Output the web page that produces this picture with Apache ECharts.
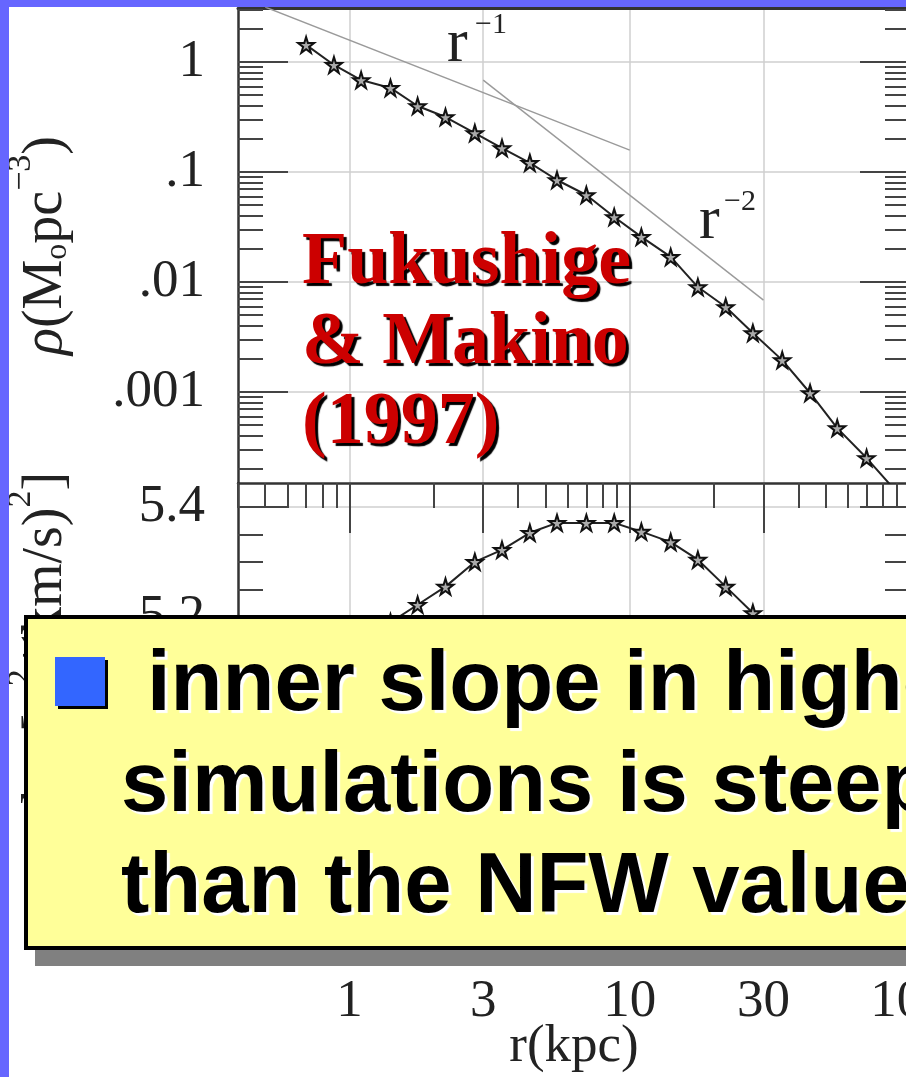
<!DOCTYPE html>
<html><head><meta charset="utf-8">
<script src="https://cdn.jsdelivr.net/npm/echarts@6/dist/echarts.min.js"></script>
<style>html,body{margin:0;padding:0;background:#fff;overflow:hidden}#c{width:906px;height:1077px}</style>
</head><body><div id="c"></div>
<script>
// ---- data ----
const rRho = [0.7, 0.88, 1.1, 1.4, 1.75, 2.2, 2.8, 3.5, 4.4, 5.5, 7.0, 8.8, 11, 14, 17.5, 22, 27.5, 35, 44, 55, 70];
const rho  = [1.43, 0.94, 0.685, 0.581, 0.398, 0.316, 0.226, 0.165, 0.121, 0.0846, 0.0618, 0.039, 0.0257, 0.0169, 0.0090, 0.00593, 0.00344, 0.00195, 0.00098, 0.00047, 0.000251];
const rRhoTail = [88];
const rhoTail = [0.00013];
const rSig = [1.4, 1.75, 2.2, 2.8, 3.5, 4.4, 5.5, 7.0, 8.8, 11, 14, 17.5, 22, 27.5, 35];
const sig  = [5.19, 5.222, 5.255, 5.30, 5.322, 5.353, 5.371, 5.371, 5.371, 5.355, 5.336, 5.304, 5.255, 5.207, 5.15];
const slope1R = [0.5, 10];
const slope1Rho = [3.16, 0.158];
const slope2R = [3, 30];
const slope2Rho = [0.684, 0.00684];
// ---- ticks ----
const xMajor = [1, 3, 10, 30, 100];
const xMinor = [0.4, 0.5, 0.6, 0.7, 0.8, 0.9, 2, 4, 5, 6, 7, 8, 9, 20, 40, 50, 60, 70, 80, 90];
const xLabels = ['1', '3', '10', '30', '100'];
const rhoMajor = [0.001, 0.01, 0.1, 1];
const rhoLabels = ['.001', '.01', '.1', '1'];
const rhoMinor = [0.0002, 0.0003, 0.0004, 0.0005, 0.0006, 0.0007, 0.0008, 0.0009,
  0.002, 0.003, 0.004, 0.005, 0.006, 0.007, 0.008, 0.009,
  0.02, 0.03, 0.04, 0.05, 0.06, 0.07, 0.08, 0.09,
  0.2, 0.3, 0.4, 0.5, 0.6, 0.7, 0.8, 0.9, 2, 3];
const sigMajor = [4.6, 4.8, 5.0, 5.2, 5.4];
const sigLabels = ['4.6', '4.8', '5.0', '5.2', '5.4'];
const sigMinor = [4.65, 4.7, 4.75, 4.85, 4.9, 4.95, 5.05, 5.1, 5.15, 5.25, 5.3, 5.35];
const boxLines = ['inner slope in higher-resolution', 'simulations is steeper', 'than the NFW value'];
const citeLines = ['Fukushige', '& Makino', '(1997)'];

const zip = (a, b) => a.map((v, i) => [v, b[i]]);
const SERIF = '"Liberation Serif","DejaVu Serif",serif';
const SANS = '"Liberation Sans",Arial,sans-serif';
const STAR = 'path://M50,0 L61,35 L98,35 L68,57 L79,91 L50,70 L21,91 L32,57 L2,35 L39,35 Z';
const tickC = '#444', gridC = '#cfcfcf';
const labelStyle = { fontFamily: SERIF, fontSize: 53, color: '#222' };

function logX(gi, extra) {
  return Object.assign({ type: 'log', gridIndex: gi, min: 0.4, max: 100,
    axisLine: { show: false }, axisTick: { show: false }, axisLabel: { show: false }, splitLine: { show: false } }, extra);
}
function tickAxis(type, gi, pos, vals, len, extraBase) {
  return Object.assign({ type: type, gridIndex: gi, position: pos,
    axisLine: { show: false },
    axisTick: { show: true, inside: true, length: len, customValues: vals, lineStyle: { color: tickC, width: 2 } },
    axisLabel: { show: false }, splitLine: { show: false } }, extraBase);
}
const rhoRange = { min: 1.489e-4, max: 3.097 };
const sigRange = { min: 4.57, max: 5.4436 };
const nameRich = {
  t: { fontFamily: SERIF, fontSize: 56, color: '#222', padding: [14, 0, 0, 0] },
  it: { fontFamily: SERIF, fontSize: 56, color: '#222', fontStyle: 'italic', padding: [14, 0, 0, 0] },
  sub: { fontFamily: SERIF, fontSize: 32, color: '#222', verticalAlign: 'bottom' },
  sup: { fontFamily: SERIF, fontSize: 34, color: '#222', verticalAlign: 'top' },
  lead: { fontFamily: SERIF, fontSize: 56, color: '#222', padding: [14, 0, 0, 170] }
};
const shadowed = (c) => ({ textShadowColor: c, textShadowOffsetX: 3, textShadowOffsetY: 3, textShadowBlur: 1,
  shadowColor: c, shadowOffsetX: 3, shadowOffsetY: 3, shadowBlur: 1 });

const chart = echarts.init(document.getElementById('c'), null, { renderer: 'canvas' });
const option = {
  animation: false,
  backgroundColor: '#fff',
  grid: [
    { left: 238, right: -4, top: 8, height: 475, outerBoundsMode: 'none', containLabel: false },
    { left: 238, right: -4, top: 483, height: 480, outerBoundsMode: 'none', containLabel: false }
  ],
  xAxis: [
    logX(0, { position: 'bottom', axisTick: { show: false, customValues: xMajor }, splitLine: { show: true, lineStyle: { color: gridC, width: 1.5 } } }),
    logX(0, { position: 'top', axisLine: { show: true, lineStyle: { color: '#333', width: 3 } } }),
    logX(1, { position: 'bottom',
      axisLine: { show: true, lineStyle: { color: '#333', width: 2 } },
      axisTick: { show: false, customValues: xMajor },
      axisLabel: { show: true, customValues: xMajor, margin: 13, formatter: v => xLabels[xMajor.indexOf(v)] ?? String(v), ...labelStyle },
      splitLine: { show: true, lineStyle: { color: gridC, width: 1.5 } },
      name: 'r(kpc)', nameLocation: 'middle', nameGap: 58, nameMoveOverlap: false, nameTextStyle: labelStyle }),
    logX(1, { position: 'top', axisLine: { show: true, lineStyle: { color: '#333', width: 2.5 } },
      axisTick: { show: true, inside: true, length: 50, customValues: xMajor, lineStyle: { color: tickC, width: 2 } } }),
    logX(1, { position: 'top',
      axisTick: { show: true, inside: true, length: 25, customValues: xMinor, lineStyle: { color: tickC, width: 2 } } })
  ],
  yAxis: [
    Object.assign({ type: 'log', gridIndex: 0, position: 'left',
      axisLine: { show: true, lineStyle: { color: '#333', width: 2.5 } },
      axisTick: { show: true, inside: true, length: 50, customValues: rhoMajor, lineStyle: { color: tickC, width: 2 } },
      axisLabel: { show: true, margin: 33, customValues: rhoMajor, formatter: v => rhoLabels[rhoMajor.indexOf(v)] ?? String(v), ...labelStyle },
      splitLine: { show: true, lineStyle: { color: gridC, width: 1.5 } },
      name: '{it|ρ}{t|(M}{sub|o}{t|pc}{sup|−3}{t|)}', nameLocation: 'middle', nameGap: 164, nameRotate: 90, nameMoveOverlap: false,
      nameTextStyle: { rich: nameRich } }, rhoRange),
    tickAxis('log', 0, 'left', rhoMinor, 25, rhoRange),
    tickAxis('log', 0, 'right', rhoMajor, 50, rhoRange),
    tickAxis('log', 0, 'right', rhoMinor, 25, rhoRange),
    Object.assign({ type: 'value', gridIndex: 1, position: 'left',
      axisLine: { show: true, lineStyle: { color: '#333', width: 2.5 } },
      axisTick: { show: true, inside: true, length: 50, customValues: sigMajor, lineStyle: { color: tickC, width: 2 } },
      axisLabel: { show: true, margin: 33, customValues: sigMajor, formatter: v => sigLabels[sigMajor.indexOf(v)] ?? String(v), ...labelStyle },
      splitLine: { show: true, lineStyle: { color: gridC, width: 1.5 } },
      name: '{lead|log[}{it|σ}{sup|2}{t|/(km/s)}{sup|2}{t|]}', nameLocation: 'middle', nameGap: 164, nameRotate: 90, nameMoveOverlap: false,
      nameTextStyle: { rich: nameRich } }, sigRange),
    tickAxis('value', 1, 'left', sigMinor, 25, sigRange),
    tickAxis('value', 1, 'right', sigMajor, 50, sigRange),
    tickAxis('value', 1, 'right', sigMinor, 25, sigRange)
  ],
  series: [
    { type: 'line', xAxisIndex: 0, yAxisIndex: 0, data: zip(slope1R, slope1Rho), symbol: 'none', clip: true,
      lineStyle: { color: '#9a9a9a', width: 1.4 }, z: 2 },
    { type: 'line', xAxisIndex: 0, yAxisIndex: 0, data: zip(slope2R, slope2Rho), symbol: 'none', clip: true,
      lineStyle: { color: '#9a9a9a', width: 1.4 }, z: 2 },
    { type: 'line', xAxisIndex: 0, yAxisIndex: 0, clip: true,
      data: zip(rRho, rho).concat(zip(rRhoTail, rhoTail).map(p => ({ value: p, symbol: 'none' }))),
      symbol: STAR, symbolSize: 16, showAllSymbol: true,
      itemStyle: { color: '#aaa', borderColor: '#111', borderWidth: 2 },
      lineStyle: { color: '#222', width: 2 }, z: 3 },
    { type: 'line', xAxisIndex: 2, yAxisIndex: 4, clip: true, data: zip(rSig, sig),
      symbol: STAR, symbolSize: 16, showAllSymbol: true,
      itemStyle: { color: '#aaa', borderColor: '#111', borderWidth: 2 },
      lineStyle: { color: '#222', width: 2 }, z: 3 }
  ],
  graphic: { elements: [
    { type: 'text', z: 50, style: { text: 'r', x: 447, y: 76, font: '62px ' + SERIF, fill: '#222', verticalAlign: 'bottom' } },
    { type: 'text', z: 50, style: { text: '−1', x: 475, y: 40, font: '30px ' + SERIF, fill: '#222', verticalAlign: 'bottom' } },
    { type: 'text', z: 50, style: { text: 'r', x: 699, y: 253, font: '62px ' + SERIF, fill: '#222', verticalAlign: 'bottom' } },
    { type: 'text', z: 50, style: { text: '−2', x: 724, y: 217, font: '30px ' + SERIF, fill: '#222', verticalAlign: 'bottom' } },
    ...citeLines.map((t, i) => ({ type: 'text', z: 60, style: Object.assign({ text: t, x: 302, y: 264 + i * 80,
      font: 'bold 74px ' + SERIF, fill: '#cc0000', verticalAlign: 'middle' }, shadowed('#000')) })),
    { type: 'rect', z: 90, shape: { x: 35, y: 631, width: 900, height: 335 }, style: { fill: '#808080' } },
    { type: 'rect', z: 91, shape: { x: 26, y: 617, width: 900, height: 331 }, style: { fill: '#ffff99', stroke: '#000', lineWidth: 4 } },
    { type: 'rect', z: 92, shape: { x: 58, y: 660, width: 50, height: 49 }, style: { fill: '#000' } },
    { type: 'rect', z: 93, shape: { x: 55, y: 657, width: 50, height: 49 }, style: { fill: '#3366ff' } },
    ...boxLines.map((t, i) => ({ type: 'text', z: 95, style: Object.assign({ text: t, x: i === 0 ? 147 : 121, y: 687 + i * 101,
      font: 'bold 85px ' + SANS, fill: '#000', verticalAlign: 'middle' }, shadowed('#fff')) })),
    { type: 'rect', z: 99, shape: { x: 0, y: 0, width: 9, height: 1077 }, style: { fill: '#6666ff' } },
    { type: 'rect', z: 99, shape: { x: 0, y: 0, width: 906, height: 7 }, style: { fill: '#6666ff' } }
  ] }
};
chart.setOption(option);
</script></body></html>
